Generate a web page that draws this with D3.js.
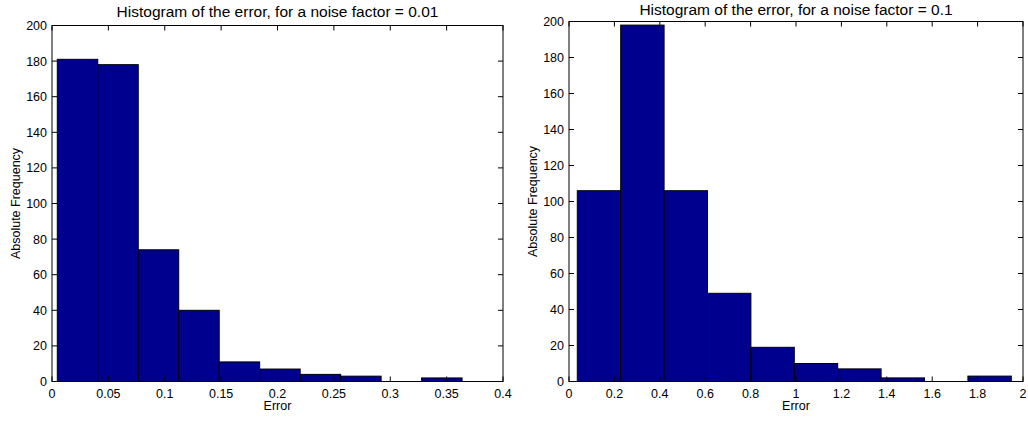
<!DOCTYPE html>
<html>
<head>
<meta charset="utf-8">
<script src="https://cdn.jsdelivr.net/npm/d3@7"></script>
<style>
  body { margin: 0; background: #fff; }
  svg { font-family: "Liberation Sans", Arial, sans-serif; }
</style>
</head>
<body>
<div id="chart"></div>
<script>
// données
const yTicks = [0, 20, 40, 60, 80, 100, 120, 140, 160, 180, 200];

const leftTitle = "Histogram of the error, for a noise factor = 0.01";
const leftEdges = [0.0047, 0.0406, 0.0765, 0.1124, 0.1483, 0.1842, 0.2201, 0.2560, 0.2919, 0.3278, 0.3637];
const leftCounts = [181, 178, 74, 40, 11, 7, 4, 3, 0, 2];
const leftXTicks = [0, 0.05, 0.1, 0.15, 0.2, 0.25, 0.3, 0.35, 0.4];
const leftXLabels = ["0", "0.05", "0.1", "0.15", "0.2", "0.25", "0.3", "0.35", "0.4"];

const rightTitle = "Histogram of the error, for a noise factor = 0.1";
const rightEdges = [0.0365, 0.2277, 0.4189, 0.6101, 0.8013, 0.9925, 1.1837, 1.3749, 1.5661, 1.7573, 1.9485];
const rightCounts = [106, 198, 106, 49, 19, 10, 7, 2, 0, 3];
const rightXTicks = [0, 0.2, 0.4, 0.6, 0.8, 1, 1.2, 1.4, 1.6, 1.8, 2];
const rightXLabels = ["0", "0.2", "0.4", "0.6", "0.8", "1", "1.2", "1.4", "1.6", "1.8", "2"];

const width = 1028, height = 421;
const svg = d3.select("#chart").append("svg")
    .attr("width", width).attr("height", height);

function drawPanel(box, title, edges, counts, xTicks, xLabels, xMax) {
    const x = d3.scaleLinear().domain([0, xMax]).range([box.left, box.right]);
    const y = d3.scaleLinear().domain([0, 200]).range([box.bottom, box.top]);
    const g = svg.append("g");

    // barres
    g.selectAll("rect.bar")
        .data(counts)
        .enter()
        .append("rect")
        .attr("class", "bar")
        .attr("x", (d, i) => x(edges[i]))
        .attr("width", (d, i) => x(edges[i + 1]) - x(edges[i]))
        .attr("y", d => y(d))
        .attr("height", d => y(0) - y(d))
        .attr("fill", "#00008f")
        .attr("stroke", "#000")
        .attr("stroke-width", 1);

    // graduations (vers l'intérieur, sur les quatre côtés)
    const tl = 5;
    g.append("g").selectAll("line").data(yTicks).enter().append("line")
        .attr("x1", box.left).attr("x2", box.left + tl)
        .attr("y1", d => y(d)).attr("y2", d => y(d)).attr("stroke", "#000");
    g.append("g").selectAll("line").data(yTicks).enter().append("line")
        .attr("x1", box.right).attr("x2", box.right - tl)
        .attr("y1", d => y(d)).attr("y2", d => y(d)).attr("stroke", "#000");
    g.append("g").selectAll("line").data(xTicks).enter().append("line")
        .attr("x1", d => x(d)).attr("x2", d => x(d))
        .attr("y1", box.bottom).attr("y2", box.bottom - tl).attr("stroke", "#000");
    g.append("g").selectAll("line").data(xTicks).enter().append("line")
        .attr("x1", d => x(d)).attr("x2", d => x(d))
        .attr("y1", box.top).attr("y2", box.top + tl).attr("stroke", "#000");

    // cadre
    g.append("rect")
        .attr("x", box.left).attr("y", box.top)
        .attr("width", box.right - box.left).attr("height", box.bottom - box.top)
        .attr("fill", "none").attr("stroke", "#000").attr("stroke-width", 1);

    // étiquettes
    g.append("g").selectAll("text").data(yTicks).enter().append("text")
        .attr("x", box.left - 5).attr("y", d => y(d) + 4.5)
        .attr("text-anchor", "end").attr("font-size", 12.5)
        .text(d => d);
    g.append("g").selectAll("text").data(xTicks).enter().append("text")
        .attr("x", d => x(d)).attr("y", box.bottom + 16.5)
        .attr("text-anchor", "middle").attr("font-size", 12.5)
        .text((d, i) => xLabels[i]);

    g.append("text")
        .attr("x", (box.left + box.right) / 2).attr("y", box.bottom + 28.5)
        .attr("text-anchor", "middle").attr("font-size", 12.5)
        .text("Error");
    g.append("text")
        .attr("transform", `translate(${box.left - 32},${(box.top + box.bottom) / 2}) rotate(-90)`)
        .attr("text-anchor", "middle").attr("font-size", 12.5)
        .text("Absolute Frequency");
    g.append("text")
        .attr("x", (box.left + box.right) / 2).attr("y", box.titleY)
        .attr("text-anchor", "middle").attr("font-size", 15.5)
        .text(title);
}

drawPanel({ left: 52, right: 503, top: 25.5, bottom: 381.5, titleY: 17 },
    leftTitle, leftEdges, leftCounts, leftXTicks, leftXLabels, 0.4);
drawPanel({ left: 569, right: 1023, top: 21.5, bottom: 381.5, titleY: 15 },
    rightTitle, rightEdges, rightCounts, rightXTicks, rightXLabels, 2);
</script>
</body>
</html>
